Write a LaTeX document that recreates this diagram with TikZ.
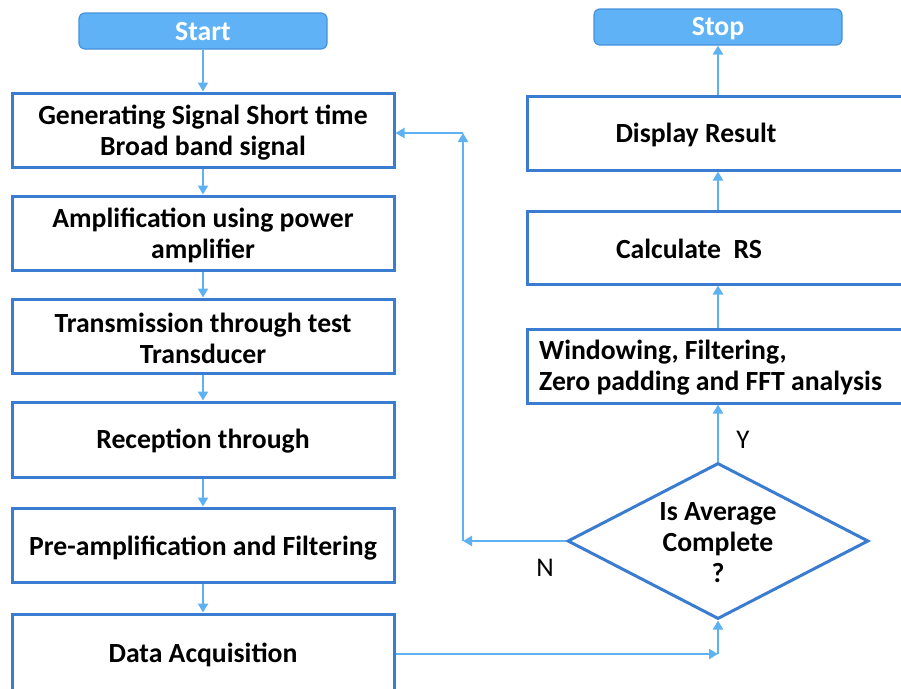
\documentclass[tikz,border=0pt]{standalone}
\usepackage{fontspec}
\setmainfont{Carlito}
\usetikzlibrary{shapes.geometric,arrows.meta}
\definecolor{boxblue}{RGB}{58,125,208}
\definecolor{arrblue}{RGB}{95,178,242}
\definecolor{startfill}{RGB}{95,178,245}
\definecolor{startdraw}{RGB}{70,145,220}
\begin{document}
\begin{tikzpicture}[x=1pt,y=-1pt,
 box/.style={draw=boxblue,line width=3pt,fill=white,inner sep=0,minimum width=382pt},
 term/.style={draw=startdraw,fill=startfill,rounded corners=6pt,line width=1.2pt,inner sep=0,minimum width=248pt,minimum height=36pt},
 termtext/.style={text=white,font=\fontsize{27.7}{31}\selectfont\bfseries,inner sep=0,anchor=base},
 lbl/.style={font=\fontsize{27.7}{31}\selectfont\bfseries,align=center,inner sep=0},
 arr/.style={draw=arrblue,line width=2.5pt,-{Triangle[length=9pt,width=10pt]}},
 yn/.style={font=\fontsize{27}{30}\selectfont,inner sep=0}]
\useasboundingbox (0,0) rectangle (901,688);
\clip (0,0) rectangle (901,688);
% left column
\node[term] (start) at (203,31) {};
\node[termtext] (tstart) at (203,40) {Start};
\node[box,minimum height=74pt] (b1) at (203,130) {};
\node[box,minimum height=74pt] (b2) at (203,233) {};
\node[box,minimum height=74pt] (b3) at (203,336) {};
\node[box,minimum height=75pt] (b4) at (203,439.5) {};
\node[box,minimum height=74pt] (b5) at (203,545) {};
\node[box,minimum height=76pt] (b6) at (203,652) {};
\node[lbl] (t1) at (203,133) {Generating Signal Short time\\Broad band signal};
\node[lbl] (t2) at (203,235) {Amplification using power\\amplifier};
\node[lbl] (t3) at (203,338) {Transmission through test\\Transducer};
\node[lbl] (t4) at (203,441) {Reception through};
\node[lbl] (t5) at (203,548) {Pre-amplification and Filtering};
\node[lbl] (t6) at (203,655) {Data Acquisition};
% right column
\node[term] (stop) at (718,27) {};
\node[termtext] (tstop) at (718,35) {Stop};
\node[box,minimum height=74pt] (disp) at (718,133) {};
\node[box,minimum height=73pt] (calc) at (718,247.5) {};
\node[box,minimum height=74pt] (win) at (718,366) {};
\node[draw=boxblue,line width=3pt,fill=white,shape=diamond,inner sep=0,minimum width=301pt,minimum height=156pt] (dia) at (718,541) {};
\node[lbl] (td) at (696,135) {Display Result};
\node[lbl] (tc) at (689,249) {Calculate~~RS};
\node[lbl,anchor=west,align=left] (tw) at (539,368) {Windowing, Filtering,\\Zero padding and FFT analysis};
\node[lbl] (tq) at (718,543) {Is Average\\Complete\\?};
\node[yn] (ylab) at (743,440) {Y};
\node[yn] (nlab) at (545,568) {N};
% connectors
\draw[arr] (start) -- (b1);
\draw[arr] (b1) -- (b2);
\draw[arr] (b2) -- (b3);
\draw[arr] (b3) -- (b4);
\draw[arr] (b4) -- (b5);
\draw[arr] (b5) -- (b6);
\draw[arr] (dia.north) -- (win.south);
\draw[arr] (win) -- (calc);
\draw[arr] (calc) -- (disp);
\draw[arr] (disp) -- (stop);
\coordinate (nbend) at (463,541);
\coordinate (ntop) at (463,133);
\coordinate (dain) at (718,654);
\draw[arr] (dia.west) -- (nbend);
\draw[arr] (nbend) -- (ntop);
\draw[arr] (ntop) -- (b1.east |- ntop);
\draw[arr] (b6.east |- dain) -- (dain);
\draw[arr] (dain) -- (dia.south);
\end{tikzpicture}
\end{document}
